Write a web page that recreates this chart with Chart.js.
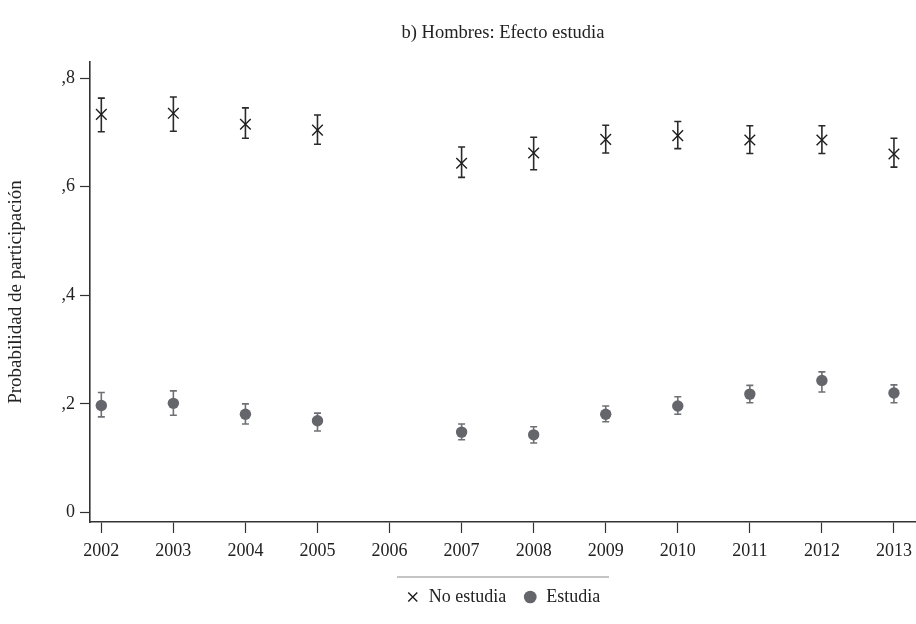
<!DOCTYPE html>
<html>
<head>
<meta charset="utf-8">
<script src="https://cdn.jsdelivr.net/npm/chart.js@4/dist/chart.umd.min.js"></script>
<style>
  html, body { margin: 0; padding: 0; background: #ffffff; }
  #wrap { width: 916px; height: 624px; }
</style>
</head>
<body>
<div id="wrap"><canvas id="c" width="916" height="624"></canvas></div>
<script>
// Survey years (no estimate for 2006)
const years = ['2002','2003','2004','2005','2006','2007','2008','2009','2010','2011','2012','2013'];

// Predicted participation probability, men not studying
const noEstudia      = [0.733, 0.735, 0.715, 0.704, null, 0.643, 0.662, 0.687, 0.694, 0.686, 0.686, 0.660];
const noEstudiaLow   = [0.701, 0.702, 0.689, 0.678, null, 0.617, 0.631, 0.662, 0.670, 0.661, 0.661, 0.636];
const noEstudiaHigh  = [0.763, 0.765, 0.745, 0.732, null, 0.673, 0.691, 0.713, 0.720, 0.712, 0.712, 0.689];

// Predicted participation probability, men studying
const estudia        = [0.197, 0.201, 0.181, 0.169, null, 0.148, 0.143, 0.181, 0.196, 0.218, 0.243, 0.220];
const estudiaLow     = [0.176, 0.179, 0.163, 0.150, null, 0.134, 0.128, 0.167, 0.181, 0.202, 0.222, 0.202];
const estudiaHigh    = [0.221, 0.224, 0.200, 0.183, null, 0.163, 0.158, 0.196, 0.213, 0.234, 0.259, 0.235];

const yTicks = [0, 0.2, 0.4, 0.6, 0.8];

const SERIF = '"Liberation Serif", "DejaVu Serif", serif';
const INK = '#222222';

function toPoints(vals, lo, hi) {
  const pts = [];
  vals.forEach((v, i) => { if (v !== null) pts.push({ x: i, y: v, lo: lo[i], hi: hi[i] }); });
  return pts;
}

// Confidence-interval whiskers with caps, drawn under the markers
const errorBars = {
  id: 'errorBars',
  beforeDatasetsDraw(chart) {
    const { ctx, scales: { x, y } } = chart;
    chart.data.datasets.forEach((ds) => {
      ctx.save();
      ctx.strokeStyle = ds.whiskerColor;
      ctx.lineWidth = 1.6;
      ds.data.forEach((p) => {
        const px = x.getPixelForValue(p.x);
        const top = y.getPixelForValue(p.hi);
        const bot = y.getPixelForValue(p.lo);
        ctx.beginPath();
        ctx.moveTo(px, top); ctx.lineTo(px, bot);
        ctx.moveTo(px - 3.5, top); ctx.lineTo(px + 3.5, top);
        ctx.moveTo(px - 3.5, bot); ctx.lineTo(px + 3.5, bot);
        ctx.stroke();
      });
      ctx.restore();
    });
  }
};

// Thin rule above the legend
const legendRule = {
  id: 'legendRule',
  afterDraw(chart) {
    const lg = chart.legend;
    if (!lg) return;
    const { ctx } = chart;
    ctx.save();
    ctx.strokeStyle = '#8a8a8a';
    ctx.lineWidth = 1.2;
    ctx.beginPath();
    ctx.moveTo(397, lg.top + 6);
    ctx.lineTo(609, lg.top + 6);
    ctx.stroke();
    ctx.restore();
  }
};

new Chart(document.getElementById('c'), {
  type: 'scatter',
  data: {
    datasets: [
      {
        label: 'No estudia',
        data: toPoints(noEstudia, noEstudiaLow, noEstudiaHigh),
        pointStyle: 'crossRot',
        pointRadius: 7.5,
        pointHoverRadius: 7.5,
        borderColor: '#1e1e1e',
        backgroundColor: '#1e1e1e',
        pointBorderWidth: 1.4,
        whiskerColor: '#2a2a2a'
      },
      {
        label: 'Estudia',
        data: toPoints(estudia, estudiaLow, estudiaHigh),
        pointStyle: 'circle',
        pointRadius: 5.7,
        pointHoverRadius: 5.7,
        borderColor: '#64666b',
        backgroundColor: '#64666b',
        pointBorderWidth: 0,
        whiskerColor: '#6e7075'
      }
    ]
  },
  options: {
    responsive: false,
    animation: false,
    events: [],
    layout: { autoPadding: false, padding: { left: 0, right: 0, top: 0, bottom: 8 } },
    plugins: {
      title: {
        display: true,
        text: 'b) Hombres: Efecto estudia',
        fullSize: false,
        color: INK,
        font: { family: SERIF, size: 18.5, weight: 'normal' },
        padding: { top: 22, bottom: 17.8 }
      },
      legend: {
        position: 'bottom',
        fullSize: false,
        labels: {
          usePointStyle: true,
          boxWidth: 14,
          boxHeight: 9,
          padding: 17,
          color: INK,
          font: { family: SERIF, size: 18 }
        }
      },
      tooltip: { enabled: false }
    },
    scales: {
      x: {
        type: 'linear',
        min: -0.157,
        max: 11.306,
        afterBuildTicks(scale) { scale.ticks = years.map((_, i) => ({ value: i })); },
        afterFit(scale) {
          scale.height = 49;
          scale.paddingLeft = 0;
          scale.paddingRight = 0;
        },
        ticks: {
          autoSkip: false,
          maxRotation: 0,
          padding: 7,
          color: INK,
          font: { family: SERIF, size: 18 },
          callback: (v) => years[v]
        },
        grid: {
          drawOnChartArea: false,
          drawTicks: true,
          tickLength: 11,
          tickWidth: 1.2,
          tickColor: '#333333'
        },
        border: { display: true, color: '#333333', width: 1.6 }
      },
      y: {
        type: 'linear',
        min: -0.0175,
        max: 0.8295,
        afterBuildTicks(scale) { scale.ticks = yTicks.map((v) => ({ value: v })); },
        afterFit(scale) { scale.width = 90; },
        ticks: {
          padding: 5,
          color: INK,
          font: { family: SERIF, size: 18 },
          callback: (v) => (v === 0 ? '0' : ',' + String(Math.round(v * 10)))
        },
        grid: {
          drawOnChartArea: false,
          drawTicks: true,
          tickLength: 10,
          tickWidth: 1.2,
          tickColor: '#333333'
        },
        border: { display: true, color: '#333333', width: 1.6 },
        title: {
          display: true,
          text: 'Probabilidad de participación',
          color: INK,
          font: { family: SERIF, size: 19 },
          padding: { top: 5, bottom: 6 }
        }
      }
    }
  },
  plugins: [errorBars, legendRule]
});
</script>
</body>
</html>
